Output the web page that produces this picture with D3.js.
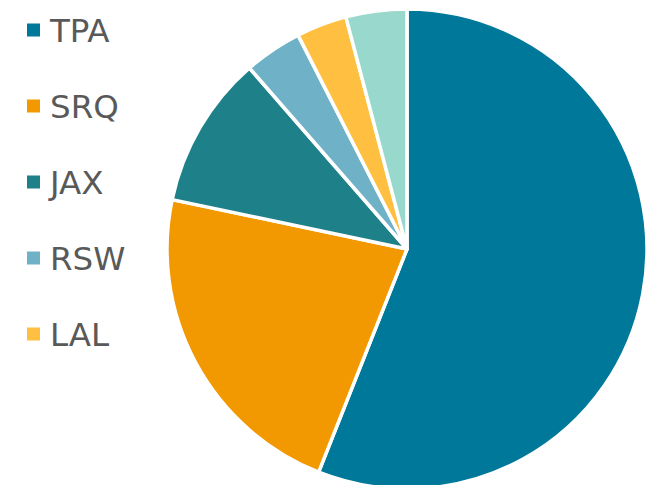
<!DOCTYPE html>
<html>
<head>
<meta charset="utf-8">
<script src="https://cdn.jsdelivr.net/npm/d3@7"></script>
<style>
  html, body { margin: 0; padding: 0; background: #fff; }
  svg { display: block; }
</style>
</head>
<body>
<svg id="chart" width="664" height="485"></svg>
<script>
// Airport share of traffic
const categories = ["TPA", "SRQ", "JAX", "RSW", "LAL", "Other"];
const values = [56.0, 22.3, 10.3, 3.9, 3.4, 4.1];
const colors = ["#00789A", "#F29800", "#1E8089", "#6FB2C8", "#FFBF40", "#99D8CC"];
const legendItems = ["TPA", "SRQ", "JAX", "RSW", "LAL"];

const svg = d3.select("#chart");
const cx = 407, cy = 249, radius = 240;

const data = categories.map((c, i) => ({ name: c, value: values[i] }));
const color = d3.scaleOrdinal().domain(categories).range(colors);

const pie = d3.pie().sort(null).value(d => d.value);
const arc = d3.arc().innerRadius(0).outerRadius(radius);

svg.append("g")
  .attr("transform", `translate(${cx},${cy})`)
  .selectAll("path")
  .data(pie(data))
  .join("path")
  .attr("d", arc)
  .attr("fill", d => color(d.data.name))
  .attr("stroke", "#fff")
  .attr("stroke-width", 3.5)
  .attr("stroke-linejoin", "round");

// Legend
const y = d3.scalePoint().domain(legendItems).range([30, 334]);
const legend = svg.append("g")
  .selectAll("g")
  .data(legendItems)
  .join("g")
  .attr("transform", d => `translate(27,${y(d)})`);

legend.append("rect")
  .attr("x", 0).attr("y", -6.5)
  .attr("width", 13).attr("height", 13)
  .attr("fill", d => color(d));

legend.append("text")
  .attr("x", 23).attr("y", 12)
  .attr("font-family", "DejaVu Sans, Verdana, sans-serif")
  .attr("font-size", 32.5)
  .attr("fill", "#595959")
  .text(d => d);
</script>
</body>
</html>
